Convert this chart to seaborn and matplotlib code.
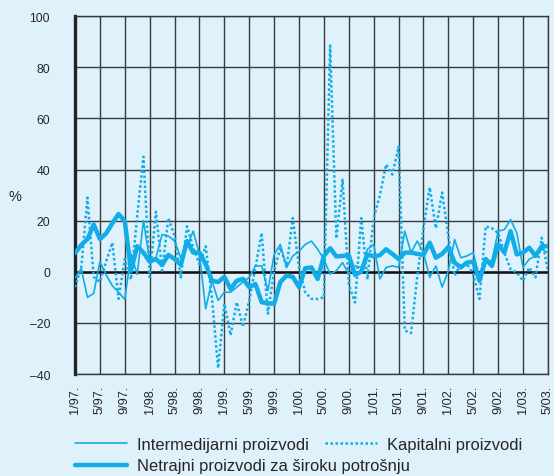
import numpy as np
import pandas as pd
import matplotlib
matplotlib.use('Agg')
import matplotlib.pyplot as plt
import seaborn as sns
from matplotlib.lines import Line2D

# monthly data, 1/97 .. 5/03 (77 months), y/y change in %
months = list(range(77))
tick_labels = ['1/97.', '5/97.', '9/97.', '1/98.', '5/98.', '9/98.', '1/99.', '5/99.',
               '9/99.', '1/00.', '5/00.', '9/00.', '1/01.', '5/01.', '9/01.', '1/02.',
               '5/02.', '9/02.', '1/03.', '5/03.']

intermedijarni = [-2.5, 1.2, -10, -8.5, 4, -1.2, -5.5, -8, -10.8, 7,
                  -1, 20, 4.5, 5.5, 14.6, 14, 12, 5.5, 10, 15.9,
                  6.8, -14.5, -3.5, -11.2, -8, -8, -6, -4, -2.2, 2.3,
                  2.3, -7.4, 6.8, 10.7, 1.7, 6.2, 8, 10.7, 12, 8.8,
                  4.9, -0.9, 0.4, 3.6, -0.9, 2.3, 1.7, 8.8, 10.7, -2.8,
                  1.7, 2.3, 1.7, 15.9, 7.5, 12, 7.5, -2.2, 2.3, -6,
                  0.4, 12.6, 5.5, 6.2, 7.5, -2.2, 4.3, 4.3, 15.9, 16.5,
                  20.4, 15.2, 1.7, 4.9, 6.2, 8.8, 7.5]

kapitalni = [-6, 1.5, 29, -2, -4, 4, 11.4, -10.6, 5, -3,
             22, 45, -2, 23.5, 0.4, 21, 14, -2.2, 17.8, 9.4,
             3, 10, -10, -37.7, -12.5, -24.8, -11.9, -21.5, -11.2, 1.7,
             15.2, -16.4, 0.4, 9.4, 2, 21, 1.7, -8, -10.6, -10.6,
             -10, 88.5, 13, 36, -5, -12, 21, -3, 21, 30,
             42, 38, 49, -23, -24, -2, 17, 33, 17, 31,
             14, -1.5, 3, 3, -1, -10.6, 17.8, 17, 15.2, 7.5,
             1, -0.3, -3.5, 1.7, -2.2, 13.3, 0.4]

netrajni = [7.3, 10.5, 12.8, 18.5, 12.8, 15, 19, 22.6, 19.8, 0.5,
            10, 7.5, 4, 5, 2.7, 6.6, 5, 2.7, 12, 7.5,
            7.5, 3, -3.5, -4, -2, -6.7, -3.5, -2.8, -6, -4.8,
            -11.9, -12.3, -12.5, -4, -1.5, -2, -6, 1.4, 1.7, -2.8,
            6.2, 9.2, 6, 6.2, 6.5, -1.2, 0, 6.8, 6, 6.5,
            8.8, 7, 5, 7.5, 7.5, 7, 6.6, 11.4, 5.5, 7,
            9.7, 3.6, 1.7, 3.6, 4, -3.5, 5, 2.3, 10.7, 7.5,
            15.9, 6.8, 7.5, 9.4, 6.2, 10, 10]

df = pd.DataFrame({'mjesec': months,
                   'Intermedijarni proizvodi': intermedijarni,
                   'Kapitalni proizvodi': kapitalni,
                   'Netrajni proizvodi za široku potrošnju': netrajni})

bg = '#dff1fa'
blue = '#10ade8'
grid = '#3a3a3a'

sns.set_style('white')
plt.rcParams['font.family'] = ['Liberation Sans', 'DejaVu Sans']

fig = plt.figure(figsize=(5.54, 4.77), dpi=100, facecolor=bg)
ax = fig.add_axes([0.1354, 0.2138, 0.8536, 0.7502])
ax.set_facecolor(bg)

sns.lineplot(data=df, x='mjesec', y='Intermedijarni proizvodi', ax=ax,
             color=blue, lw=1.2, zorder=3)
sns.lineplot(data=df, x='mjesec', y='Kapitalni proizvodi', ax=ax,
             color=blue, lw=1.8, linestyle=(0, (1, 1)), zorder=3)
sns.lineplot(data=df, x='mjesec', y='Netrajni proizvodi za široku potrošnju', ax=ax,
             color=blue, lw=3.2, zorder=4)

ax.set_xlim(0, 76)
ax.set_ylim(-40, 100)
ax.set_xticks(range(0, 77, 4))
ax.set_xticklabels(tick_labels, rotation=90, fontsize=9.2)
ax.set_yticks(range(-40, 101, 20))
ax.set_yticklabels([str(v).replace('-', '\u2013') for v in range(-40, 101, 20)], fontsize=8.8)
ax.set_xlabel('')
ax.set_ylabel('')

ax.grid(True, color=grid, lw=1.0)
ax.set_axisbelow(True)
ax.axhline(0, color='#111111', lw=1.8, zorder=2)
for s in ['top', 'right', 'bottom']:
    ax.spines[s].set_color(grid)
    ax.spines[s].set_linewidth(1.0)
ax.spines['left'].set_color('#222222')
ax.spines['left'].set_linewidth(2.4)
ax.tick_params(axis='x', direction='inout', length=9, width=1, color=grid, pad=3)
ax.tick_params(axis='y', direction='out', length=7, width=1, color=grid, pad=11)

fig.text(0.027, 0.587, '%', fontsize=10.5, va='center', ha='center')

h_int = Line2D([], [], color=blue, lw=1.2)
h_kap = Line2D([], [], color=blue, lw=1.8, linestyle=(0, (1, 1)))
h_net = Line2D([], [], color=blue, lw=3.2)

leg1 = fig.legend([h_int, h_kap], ['Intermedijarni proizvodi', 'Kapitalni proizvodi'],
                  loc='center left', bbox_to_anchor=(0.135, 0.066), ncol=2, frameon=False,
                  fontsize=11.9, handlelength=3.15, handletextpad=0.6, columnspacing=1.0,
                  borderpad=0, borderaxespad=0)
leg2 = fig.legend([h_net], ['Netrajni proizvodi za široku potrošnju'],
                  loc='center left', bbox_to_anchor=(0.135, 0.021), frameon=False,
                  fontsize=11.9, handlelength=3.15, handletextpad=0.6,
                  borderpad=0, borderaxespad=0)

fig.savefig('out.png', dpi=100, facecolor=bg)
